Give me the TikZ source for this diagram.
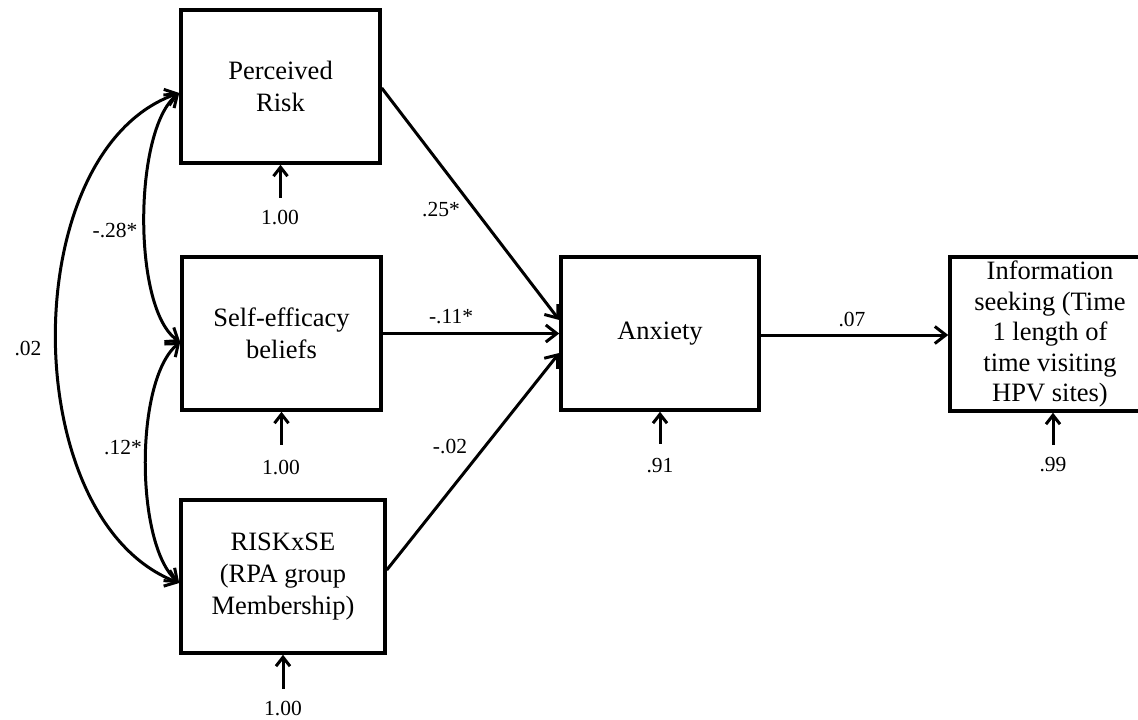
\documentclass[tikz,border=0pt]{standalone}
\usepackage{fontspec}
\setmainfont{Liberation Serif}
\usetikzlibrary{arrows.meta}
\begin{document}
\begin{tikzpicture}[x=1pt,y=-1pt,
  varbox/.style={draw, line width=3.5pt, rectangle, inner sep=0pt,
    minimum width=199pt, minimum height=153pt, align=center,
    font=\fontsize{26.5}{32}\selectfont},
  causal/.style={line width=3pt, -{Straight Barb[length=11pt,width=17pt]}},
  covar/.style={line width=3pt, {Straight Barb[length=11pt,width=17pt]}-{Straight Barb[length=11pt,width=17pt]}},
  resid/.style={line width=3pt, -{Straight Barb[length=9pt,width=14pt]}},
  coef/.style={font=\fontsize{21.5}{24}\selectfont, inner sep=0pt},
]
\useasboundingbox (0,0) rectangle (1138,720);
\clip (0,0) rectangle (1138,720);
\fill[white] (0,0) rectangle (1138,720);

% predictor, mediator and outcome boxes
\node[varbox] (pr) at (280.5,86.5) {Perceived\\Risk};
\node[varbox] (se) at (281.5,333.5) {Self-efficacy\\beliefs};
\node[varbox, minimum width=204pt] (rx) at (283,576.5) {RISKxSE\\(RPA group\\Membership)};
\node[varbox, minimum width=198pt] (anx) at (660,333.5) {Anxiety};
\node[varbox, minimum width=200pt, minimum height=154pt,
      font=\fontsize{26.5}{30.5}\selectfont] (info) at (1050,334)
  {Information\\seeking (Time\\1 length of\\time visiting\\HPV sites)};

% attachment points of the covariance arcs
\coordinate (prL) at ([yshift=-6.5pt]pr.west);
\coordinate (seL) at ([yshift=-8.5pt]se.west);
\coordinate (rxL) at ([yshift=-6.5pt]rx.west);

% covariances among the predictors
\draw[covar] (prL) .. controls +(-164,57) and +(-164,-63) .. (rxL);
\draw[covar] (prL) .. controls +(-46,37) and +(-48,-32) .. (seL);
\draw[covar] (seL) .. controls +(-46,38) and +(-44,-38) .. (rxL);

\node[coef] (c28) at (115,230) {-.28*};
\node[coef] (c12) at (123,448) {.12*};
\node[coef] (c02) at (28,348) {.02};

% structural paths
\draw[causal] ([yshift=-1.5pt]pr.east) -- ([yshift=13.5pt]anx.west);
\draw[causal] (se.east) -- (anx.west);
\draw[causal] ([yshift=6.5pt]rx.east) -- ([yshift=-19.5pt]anx.west);
\draw[causal] ([yshift=-1.5pt]anx.east) -- ([yshift=-1pt]info.west);

\node[coef] (p25) at (441,210) {.25*};
\node[coef] (p11) at (451,317) {-.11*};
\node[coef] (p02) at (450,446) {-.02};
\node[coef] (p07) at (852,319) {.07};

% residual terms
\coordinate (epr) at ([yshift=-33pt]pr.south);
\coordinate (ese) at ([yshift=-33pt]se.south);
\coordinate (erx) at ([yshift=-34pt]rx.south);
\coordinate (eanx) at ([yshift=-32pt]anx.south);
\coordinate (einfo) at ([xshift=3pt,yshift=-32pt]info.south);
\draw[resid] (epr) -- (pr.south);
\draw[resid] (ese) -- (se.south);
\draw[resid] (erx) -- (rx.south);
\draw[resid] (eanx) -- (anx.south);
\draw[resid] (einfo) -- ([xshift=3pt]info.south);

\node[coef] (rpr) at (280,218) {1.00};
\node[coef] (rse) at (281,467) {1.00};
\node[coef] (rrx) at (283,708) {1.00};
\node[coef] (ranx) at (660,466) {.91};
\node[coef] (rinfo) at (1053,465) {.99};
\end{tikzpicture}
\end{document}
